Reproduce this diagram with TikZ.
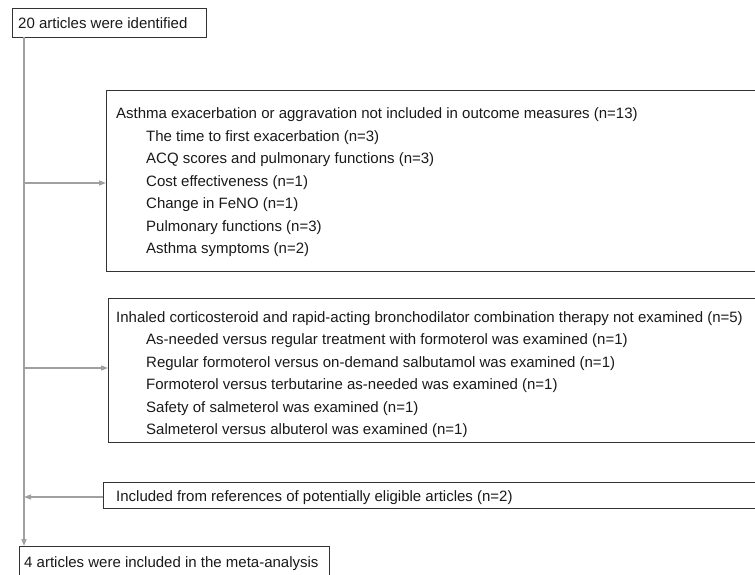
\documentclass[tikz,border=0pt]{standalone}
\usepackage{fontspec}
\setmainfont{Liberation Sans}
\usetikzlibrary{arrows.meta}
\definecolor{boxline}{HTML}{333333}
\definecolor{flow}{HTML}{A0A0A0}
\begin{document}
\begin{tikzpicture}[x=1pt,y=-1pt,
  box/.style={draw=boxline,line width=1pt,anchor=north west,inner sep=0pt,minimum width=#1},
  txt/.style={anchor=west,inner sep=0pt,yshift=-1.5pt,font=\fontsize{15}{18}\selectfont,text=black!90},
  flowline/.style={draw=flow,line width=1.2pt,-{Triangle[length=7pt,width=5pt]}}]
\useasboundingbox (0,0) rectangle (755,575);
\clip (0,0) rectangle (755,575);
% boxes
\node[box=194pt,minimum height=29pt] (top) at (12,8) {};
\node[box=680pt,minimum height=181pt] (b1) at (106,90) {};
\node[box=680pt,minimum height=144pt] (b2) at (108,298) {};
\node[box=680pt,minimum height=26pt] (b3) at (103,482) {};
\node[box=310pt,minimum height=60pt] (bot) at (19,546) {};
% texts
\node[txt] (t0) at (18,22) {20 articles were identified};
\node[txt] (h1) at (116,113) {Asthma exacerbation or aggravation not included in outcome measures (n=13)};
\node[txt] (a1) at (146,136) {The time to first exacerbation (n=3)};
\node[txt] (a2) at (146,158.5) {ACQ scores and pulmonary functions (n=3)};
\node[txt] (a3) at (146,181) {Cost effectiveness (n=1)};
\node[txt] (a4) at (146,203.5) {Change in FeNO (n=1)};
\node[txt] (a5) at (146,226) {Pulmonary functions (n=3)};
\node[txt] (a6) at (146,248.5) {Asthma symptoms (n=2)};
\node[txt] (h2) at (116,317) {Inhaled corticosteroid and rapid-acting bronchodilator combination therapy not examined (n=5)};
\node[txt] (c1) at (146,339.5) {As-needed versus regular treatment with formoterol was examined (n=1)};
\node[txt] (c2) at (146,362) {Regular formoterol versus on-demand salbutamol was examined (n=1)};
\node[txt] (c3) at (146,384.5) {Formoterol versus terbutarine as-needed was examined (n=1)};
\node[txt] (c4) at (146,407) {Safety of salmeterol was examined (n=1)};
\node[txt] (c5) at (146,429.5) {Salmeterol versus albuterol was examined (n=1)};
\node[txt] (h3) at (116,496) {Included from references of potentially eligible articles (n=2)};
\node[txt] (t4) at (24,562) {4 articles were included in the meta-analysis};
% connectors
\coordinate (s0) at (24,37);
\coordinate (j1) at (24,183);
\coordinate (j2) at (24,368);
\coordinate (j3) at (24,497);
\draw[flowline] (s0) -- (24,546);
\draw[flowline] (j1) -- (j1 -| b1.west);
\draw[flowline] (j2) -- (j2 -| b2.west);
\draw[flowline] (j3 -| b3.west) -- (j3);
\end{tikzpicture}
\end{document}
